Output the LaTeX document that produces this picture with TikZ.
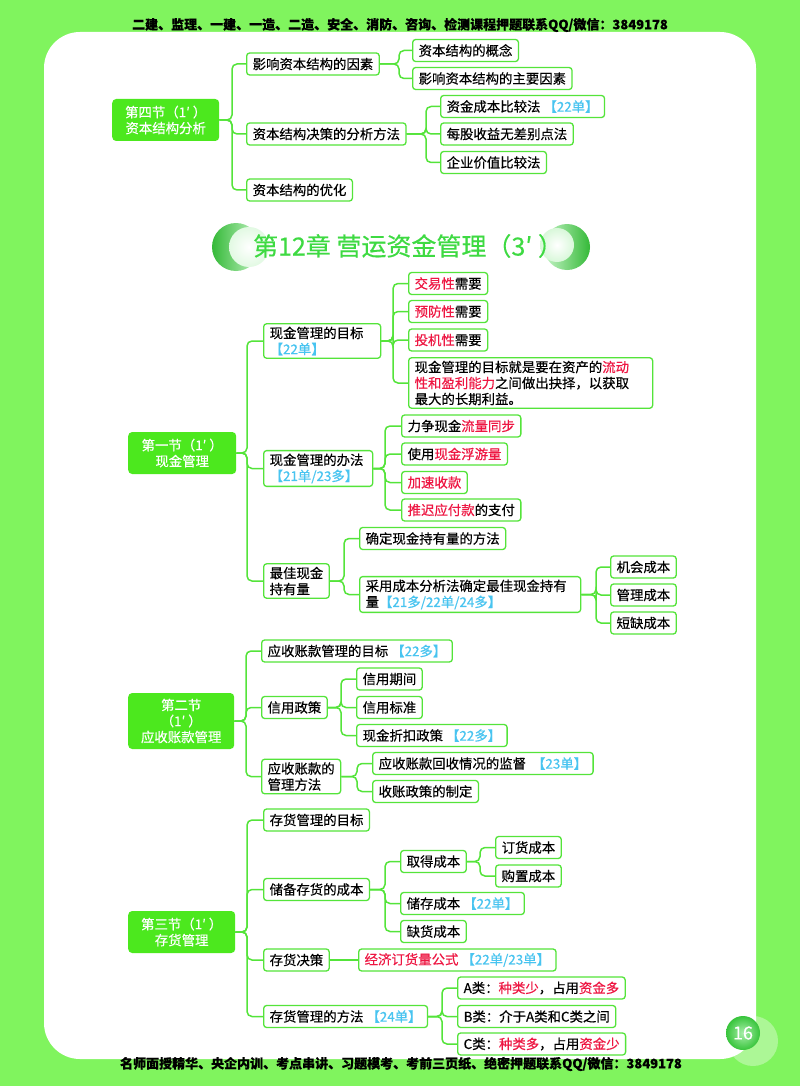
\documentclass[tikz,border=0pt]{standalone}
\usepackage{fontspec}
\setmainfont{Noto Sans CJK SC}[FakeBold=0.4]
\usetikzlibrary{positioning,shadings}

\definecolor{bggreen}{RGB}{128,244,94}
\definecolor{edge}{RGB}{84,228,58}
\definecolor{rootgreen}{RGB}{76,232,30}
\definecolor{titlegreen}{RGB}{62,218,66}
\definecolor{hot}{RGB}{238,22,66}
\definecolor{tagblue}{RGB}{72,196,240}
\newcommand\hot[1]{\textcolor{hot}{#1}}
\newcommand\examtag[1]{\textcolor{tagblue}{#1}}

\begin{document}
\begin{tikzpicture}[x=1pt, y=-1pt, every node/.style={font=\fontsize{13.4}{16}\selectfont},
  box/.style={draw=edge,line width=1.3pt,fill=white,rounded corners=3pt,anchor=west,align=left,minimum height=22pt,inner xsep=6pt,inner ysep=3pt},
  root/.style={fill=rootgreen,rounded corners=4pt,text=white,align=center,anchor=west,minimum width=107pt,minimum height=42pt},
  link/.style={draw=edge,line width=1.5pt,rounded corners=5pt}]
\useasboundingbox (0,0) rectangle (800,1086);
\fill[bggreen] (0,0) rectangle (800,1086);
\fill[white,rounded corners=36pt] (44,32) rectangle (756,1059);

\node[font=\fontsize{13}{15}\selectfont\bfseries] (hdr) at (400,25) {二建、监理、一建、一造、二造、安全、消防、咨询、检测课程押题联系QQ/微信：3849178};
\node[font=\fontsize{13}{15}\selectfont\bfseries] (ftr) at (401,1064) {名师面授精华、央企内训、考点串讲、习题模考、考前三页纸、绝密押题联系QQ/微信：3849178};

% 第四节
\node[root] (s4) at (112,120) {第四节（1′ ）\\资本结构分析};
\node[box] (s4a) at (246,64) {影响资本结构的因素};
\node[box] (s4a1) at (412,50.5) {资本结构的概念};
\node[box] (s4a2) at (412,78.5) {影响资本结构的主要因素};
\node[box] (s4b) at (246,134) {资本结构决策的分析方法};
\node[box] (s4b1) at (440,106.5) {资金成本比较法 \examtag{【22单】}};
\node[box] (s4b2) at (440,134) {每股收益无差别点法};
\node[box] (s4b3) at (440,162.5) {企业价值比较法};
\node[box] (s4c) at (246,190) {资本结构的优化};

\foreach \c in {s4a,s4b,s4c} \draw[link] (s4.east) -| ([xshift=-14pt]\c.west) -- (\c.west);
\foreach \c in {s4a1,s4a2} \draw[link] (s4a.east) -| ([xshift=-13pt]\c.west) -- (\c.west);
\foreach \c in {s4b1,s4b2,s4b3} \draw[link] (s4b.east) -| ([xshift=-14pt]\c.west) -- (\c.west);

% chapter title
\shade[left color=titlegreen!85!black,right color=titlegreen!30] (236,247) circle (24);
\shade[inner color=white,outer color=white!85!titlegreen] (249,247) circle (20);
\shade[left color=titlegreen!30,right color=titlegreen!85!black] (567,247) circle (23);
\shade[inner color=white,outer color=white!80!titlegreen] (557,245) circle (17);
\node[text=titlegreen,font=\fontsize{25}{28}\selectfont] (title) at (408,246) {第12章 营运资金管理（3′ ）};

% 第一节
\node[root,minimum width=108pt] (s1) at (128,453) {第一节（1′ ）\\现金管理};
\node[box,text width=105pt] (s1a) at (263,341) {现金管理的目标\\\examtag{【22单】}};
\node[box] (s1a1) at (408,283.5) {\hot{交易性}需要};
\node[box] (s1a2) at (408,311.5) {\hot{预防性}需要};
\node[box] (s1a3) at (408,340) {\hot{投机性}需要};
\node[box,text width=232pt] (s1a4) at (408,383) {现金管理的目标就是要在资产的\hot{流动}\\\hot{性和盈利能力}之间做出抉择，以获取\\最大的长期利益。};
\node[box,text width=97pt] (s1b) at (263,468.5) {现金管理的办法\\\examtag{【21单/23多】}};
\node[box] (s1b1) at (401,426) {力争现金\hot{流量同步}};
\node[box] (s1b2) at (401,454) {使用\hot{现金浮游量}};
\node[box] (s1b3) at (401,482.5) {\hot{加速收款}};
\node[box] (s1b4) at (401,510) {\hot{推迟应付款}的支付};
\node[box] (s1c) at (263,581) {最佳现金\\持有量};
\node[box] (s1c1) at (359,538.5) {确定现金持有量的方法};
\node[box,text width=209pt] (s1c2) at (359,594.5) {采用成本分析法确定最佳现金持有\\量\examtag{【21多/22单/24多】}};
\node[box] (s1c21) at (610,567) {机会成本};
\node[box] (s1c22) at (610,595) {管理成本};
\node[box] (s1c23) at (610,623) {短缺成本};

\foreach \c in {s1a,s1b,s1c} \draw[link] (s1.east) -| ([xshift=-16pt]\c.west) -- (\c.west);
\foreach \c in {s1a1,s1a2,s1a3,s1a4} \draw[link] (s1a.east) -| ([xshift=-15pt]\c.west) -- (\c.west);
\foreach \c in {s1b1,s1b2,s1b3,s1b4} \draw[link] (s1b.east) -| ([xshift=-16pt]\c.west) -- (\c.west);
\foreach \c in {s1c1,s1c2} \draw[link] (s1c.east) -| ([xshift=-15pt]\c.west) -- (\c.west);
\foreach \c in {s1c21,s1c22,s1c23} \draw[link] (s1c2.east) -| ([xshift=-14pt]\c.west) -- (\c.west);

% 第二节
\node[root,minimum width=106pt,minimum height=56pt] (s2) at (128,721) {第二节\\（1′ ）\\应收账款管理};
\node[box] (s2a) at (261,651) {应收账款管理的目标 \examtag{【22多】}};
\node[box] (s2b) at (261,707.5) {信用政策};
\node[box] (s2b1) at (356,679) {信用期间};
\node[box] (s2b2) at (356,707.5) {信用标准};
\node[box] (s2b3) at (356,735.5) {现金折扣政策 \examtag{【22多】}};
\node[box] (s2c) at (261,776.5) {应收账款的\\管理方法};
\node[box] (s2c1) at (372,763.5) {应收账款回收情况的监督 \ \examtag{【23单】}};
\node[box] (s2c2) at (372,791.5) {收账政策的制定};

\foreach \c in {s2a,s2b,s2c} \draw[link] (s2.east) -| ([xshift=-15pt]\c.west) -- (\c.west);
\foreach \c in {s2b1,s2b2,s2b3} \draw[link] (s2b.east) -| ([xshift=-15pt]\c.west) -- (\c.west);
\foreach \c in {s2c1,s2c2} \draw[link] (s2c.east) -| ([xshift=-15pt]\c.west) -- (\c.west);

% 第三节
\node[root] (s3) at (128,932) {第三节（1′ ）\\存货管理};
\node[box] (s3a) at (263,820) {存货管理的目标};
\node[box] (s3b) at (263,889.5) {储备存货的成本};
\node[box] (s3b1) at (400,861.5) {取得成本};
\node[box] (s3b11) at (495,847.5) {订货成本};
\node[box] (s3b12) at (495,876) {购置成本};
\node[box] (s3b2) at (400,903.5) {储存成本 \examtag{【22单】}};
\node[box] (s3b3) at (400,931.5) {缺货成本};
\node[box] (s3c) at (263,960) {存货决策};
\node[box] (s3c1) at (358,960) {\hot{经济订货量公式} \examtag{【22单/23单】}};
\node[box] (s3d) at (263,1016.5) {存货管理的方法 \examtag{【24单】}};
\node[box] (s3d1) at (457,988) {A类：\hot{种类少}，占用\hot{资金多}};
\node[box] (s3d2) at (457,1016.5) {B类：介于A类和C类之间};
\node[box] (s3d3) at (457,1044) {C类：\hot{种类多}，占用\hot{资金少}};

\foreach \c in {s3a,s3b,s3c,s3d} \draw[link] (s3.east) -| ([xshift=-16pt]\c.west) -- (\c.west);
\foreach \c in {s3b1,s3b2,s3b3} \draw[link] (s3b.east) -| ([xshift=-15pt]\c.west) -- (\c.west);
\foreach \c in {s3b11,s3b12} \draw[link] (s3b1.east) -| ([xshift=-15pt]\c.west) -- (\c.west);
\draw[link] (s3c) -- (s3c1);
\foreach \c in {s3d1,s3d2,s3d3} \draw[link] (s3d.east) -| ([xshift=-15pt]\c.west) -- (\c.west);

% page number
\fill[white,opacity=0.35] (753,1041) circle (25);
\shade[inner color=titlegreen!45,outer color=titlegreen!90!black] (743,1033) circle (17);
\node[text=white,font=\fontsize{18}{20}\selectfont] (pg) at (743,1033) {16};
\end{tikzpicture}
\end{document}
